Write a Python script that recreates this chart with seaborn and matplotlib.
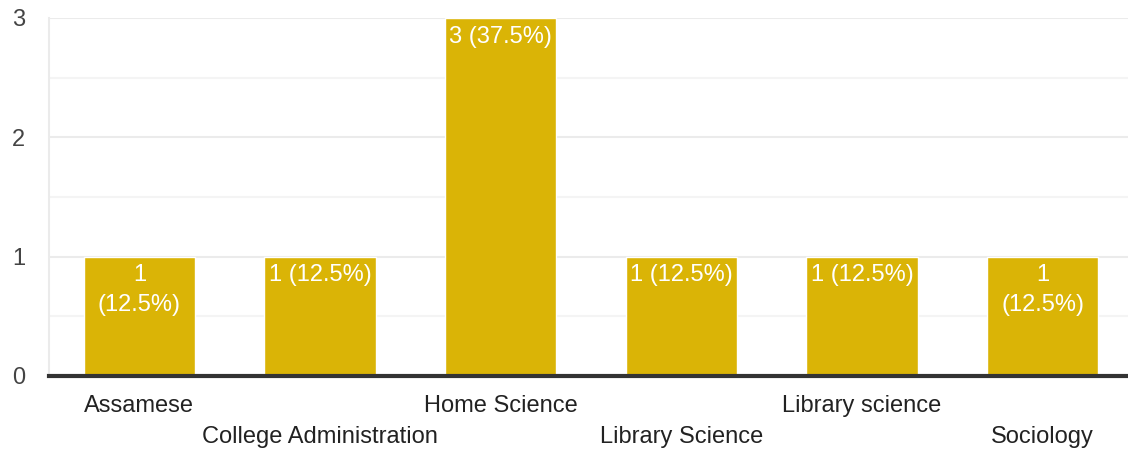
import matplotlib
matplotlib.use("Agg")
import matplotlib.pyplot as plt
import seaborn as sns
import pandas as pd
from matplotlib.ticker import MultipleLocator

categories = ["Assamese", "College Administration", "Home Science", "Library Science", "Library science", "Sociology"]
values = [1, 1, 3, 1, 1, 1]
bar_labels = ["1\n(12.5%)", "1 (12.5%)", "3 (37.5%)", "1 (12.5%)", "1 (12.5%)", "1\n(12.5%)"]
yticks = [0, 1, 2, 3]

sns.set_theme(style="white")
plt.rcParams['font.family'] = ['Liberation Sans', 'DejaVu Sans']

W, H = 1128, 455
fig = plt.figure(figsize=(W/100, H/100), dpi=100)
left, right, top, bottom = 49, 1133, 18, 376
ax = fig.add_axes([left/W, 1-bottom/H, (right-left)/W, (bottom-top)/H])

df = pd.DataFrame({"cat": categories, "val": values})
sns.barplot(data=df, x="cat", y="val", color="#DAB406", saturation=1, width=0.615, ax=ax, zorder=3)

ax.set_xlim(-0.5, len(categories)-0.5)
ax.set_ylim(0, 3)
ax.set_yticks(yticks)
ax.yaxis.set_minor_locator(MultipleLocator(0.5))
ax.grid(axis="y", which="major", color="#ebebeb", linewidth=1.5, zorder=0)
ax.grid(axis="y", which="minor", color="#f4f4f4", linewidth=1.5, zorder=0)
ax.set_axisbelow(True)

for s in ["top", "right"]:
    ax.spines[s].set_visible(False)
ax.spines["left"].set_color("#ebebeb")
ax.spines["left"].set_linewidth(1.5)
ax.spines["bottom"].set_color("#333333")
ax.spines["bottom"].set_linewidth(3)
ax.spines["bottom"].set_zorder(5)

ax.set_xlabel("")
ax.set_ylabel("")
ax.tick_params(axis="y", which="both", length=0, pad=22, labelsize=17, labelcolor="#444444")
ax.tick_params(axis="x", length=0, pad=13.5, labelsize=17, labelcolor="#222222")
xl = [("\n" + c) if i % 2 else c for i, c in enumerate(categories)]
ax.set_xticks(range(len(categories)))
ax.set_xticklabels(xl, linespacing=1.55, va="top")
for lab in ax.get_yticklabels():
    lab.set_horizontalalignment("center")

for i, (v, t) in enumerate(zip(values, bar_labels)):
    ax.annotate(t, xy=(i, v), xytext=(0, -5.5), textcoords="offset points",
                ha="center", va="top", color="white", fontsize=17, linespacing=1.45, zorder=6)

fig.savefig("out.png", dpi=100, facecolor="white")
